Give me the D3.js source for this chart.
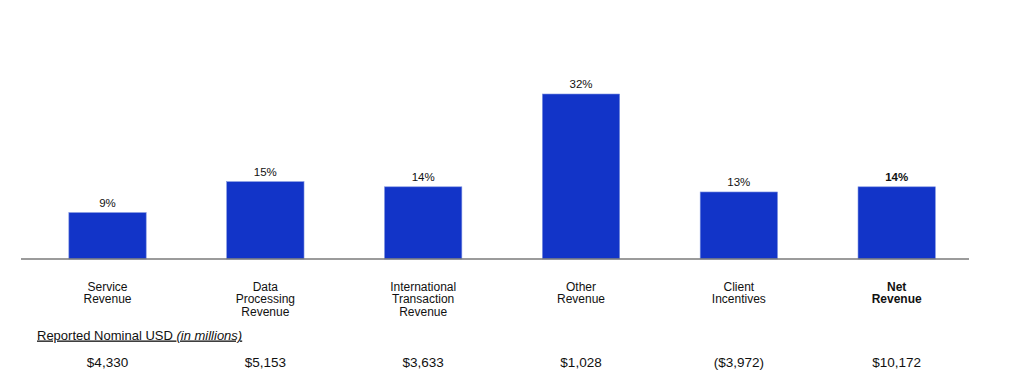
<!DOCTYPE html>
<html>
<head>
<meta charset="utf-8">
<script src="https://cdn.jsdelivr.net/npm/d3@7.9.0/dist/d3.min.js"></script>
<style>
  body { margin: 0; background: #fff; }
  svg { display: block; font-family: "Liberation Sans", Arial, sans-serif; }
</style>
</head>
<body>
<div id="chart"></div>
<script>
const categories = [
  ["Service", "Revenue"],
  ["Data", "Processing", "Revenue"],
  ["International", "Transaction", "Revenue"],
  ["Other", "Revenue"],
  ["Client", "Incentives"],
  ["Net", "Revenue"]
];
const growth = [9, 15, 14, 32, 13, 14];
const nominal = ["$4,330", "$5,153", "$3,633", "$1,028", "($3,972)", "$10,172"];
const boldIndex = 5;

const width = 1024;
const height = 389;
const baseline = 259;

const svg = d3.select('#chart')
  .append('svg')
  .attr('width', width)
  .attr('height', height);

const xScale = d3.scaleBand()
  .domain(d3.range(categories.length))
  .range([28.6, 975.6])
  .paddingInner(0.51)
  .paddingOuter(0.255);

const yScale = d3.scaleLinear()
  .domain([0, 32])
  .range([baseline, 94]);

// bars
svg.append('g')
  .selectAll('rect')
  .data(growth)
  .join('rect')
  .attr('x', (d, i) => xScale(i))
  .attr('y', d => yScale(d))
  .attr('width', xScale.bandwidth())
  .attr('height', d => baseline - yScale(d))
  .attr('fill', '#1234c8')
  .attr('stroke', '#7f93e0')
  .attr('stroke-width', 0.6);

// baseline
svg.append('line')
  .attr('x1', 21)
  .attr('x2', 969)
  .attr('y1', baseline)
  .attr('y2', baseline)
  .attr('stroke', '#7a7a7a')
  .attr('stroke-width', 1.5);

// percent labels
svg.append('g')
  .selectAll('text')
  .data(growth)
  .join('text')
  .attr('x', (d, i) => xScale(i) + xScale.bandwidth() / 2)
  .attr('y', d => yScale(d) - 6)
  .attr('text-anchor', 'middle')
  .attr('font-size', '11.5px')
  .attr('font-weight', (d, i) => i === boldIndex ? 'bold' : 'normal')
  .attr('fill', '#111')
  .text(d => d + '%');

// category labels
const catLabels = svg.append('g')
  .selectAll('text')
  .data(categories)
  .join('text')
  .attr('x', (d, i) => xScale(i) + xScale.bandwidth() / 2)
  .attr('y', 290.5)
  .attr('text-anchor', 'middle')
  .attr('font-size', '12px')
  .attr('font-weight', (d, i) => i === boldIndex ? 'bold' : 'normal')
  .attr('fill', '#111');

catLabels.selectAll('tspan')
  .data(d => d)
  .join('tspan')
  .attr('x', function () { return d3.select(this.parentNode).attr('x'); })
  .attr('dy', (d, j) => j === 0 ? 0 : 12.7)
  .text(d => d);

// section title
const title = svg.append('text')
  .attr('x', 37)
  .attr('y', 339.5)
  .attr('font-size', '13px')
  .attr('fill', '#111')
  .attr('text-decoration', 'underline');
title.append('tspan').text('Reported Nominal USD ');
title.append('tspan').attr('font-style', 'italic').text('(in millions)');

// nominal values
svg.append('g')
  .selectAll('text')
  .data(nominal)
  .join('text')
  .attr('x', (d, i) => xScale(i) + xScale.bandwidth() / 2)
  .attr('y', 366.5)
  .attr('text-anchor', 'middle')
  .attr('font-size', '13.5px')
  .attr('fill', '#111')
  .text(d => d);
</script>
</body>
</html>
